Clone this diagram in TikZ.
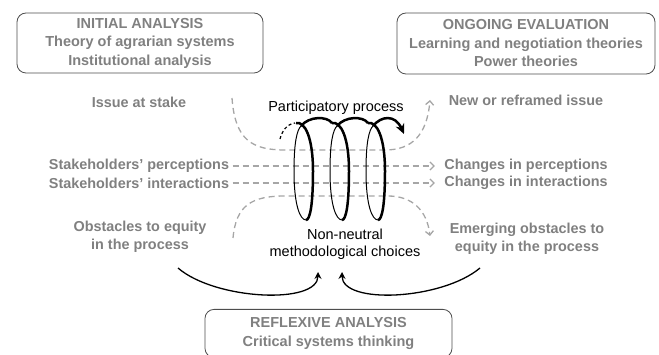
\documentclass[tikz,border=0pt]{standalone}
\usepackage{fontspec}
\setmainfont{Liberation Sans}
\usetikzlibrary{arrows.meta}
\definecolor{labelgrey}{HTML}{808080}
\definecolor{flowgrey}{HTML}{A6A6A6}
\definecolor{boxline}{HTML}{4D4D4D}

\begin{document}
\begin{tikzpicture}[x=1pt, y=-1pt, align=center,
    frame/.style={draw=boxline, line width=0.8pt, rounded corners=9pt, text=labelgrey, font=\bfseries\fontsize{14.5}{18.5}\selectfont},
    side label/.style={text=labelgrey, font=\bfseries\fontsize{14.4}{18}\selectfont},
    black label/.style={font=\fontsize{14.5}{17}\selectfont},
    flow/.style={draw=flowgrey, line width=1.3pt, dash pattern=on 6pt off 4pt, -{Straight Barb[length=4pt,width=8pt]}},
    front/.style={line width=2.5pt},
    back/.style={line width=1pt},
    choice/.style={line width=1.3pt, -{Stealth[length=7pt,width=7pt,inset=2.5pt]}}]
        \useasboundingbox (0,0) rectangle (659,355);

        \node[frame, minimum width=246pt, minimum height=60pt](Initial analysis) at (140,43) {INITIAL ANALYSIS\\Theory of agrarian systems\\Institutional analysis};
        \node[frame, minimum width=258pt, minimum height=61pt](Ongoing evaluation) at (526,43.5) {ONGOING EVALUATION\\Learning and negotiation theories\\Power theories};
        \node[frame, minimum width=247pt, minimum height=48pt, anchor=north](Reflexive analysis) at (328.5,309) {REFLEXIVE ANALYSIS\\Critical systems thinking};

        \node[side label](Issue at stake) at (139,102) {Issue at stake};
        \node[side label](Stakeholders perceptions) at (139,166) {Stakeholders’ perceptions};
        \node[side label](Stakeholders interactions) at (139,183) {Stakeholders’ interactions};
        \node[side label](Obstacles to equity) at (140,237) {Obstacles to equity\\in the process};

        \node[side label](New or reframed issue) at (526,100) {New or reframed issue};
        \node[side label](Changes in perceptions) at (526,166) {Changes in perceptions};
        \node[side label](Changes in interactions) at (526,183) {Changes in interactions};
        \node[side label](Emerging obstacles) at (527,239) {Emerging obstacles to\\equity in the process};

        \node[black label](Participatory process) at (336,108) {Participatory process};
        \node[black label](Non-neutral choices) at (345,244.5) {Non-neutral\\methodological choices};

        \coordinate (Issue out) at (232,98);
        \coordinate (Issue in) at (430,100);
        \coordinate (Obstacles out) at (233,238);
        \coordinate (Obstacles in) at (430,236);
        \coordinate (Reflexive left) at (178,268);
        \coordinate (Reflexive right) at (480,268);
        \coordinate (Choices left) at (318,272);
        \coordinate (Choices right) at (342,272);

        % flows through the process
        \draw[flow] (Issue out) .. controls (235,140) and (252,150) .. (285,150) -- (385,150) .. controls (412,150) and (427,135) .. (Issue in);
        \draw[flow, shorten >=6pt] (Stakeholders perceptions) -- (Changes in perceptions);
        \draw[flow, shorten >=6pt] (Stakeholders interactions) -- (Changes in interactions);
        \draw[flow] (Obstacles out) .. controls (236,205) and (252,196) .. (285,196) -- (388,196) .. controls (412,196) and (427,210) .. (Obstacles in);

        % the coil
        \draw[line width=1.2pt, dash pattern=on 3pt off 2.5pt] (280,139) .. controls (282,131) and (287,124) .. (295,123);
        \foreach \c in {303,339,375} {
            \draw[front] (\c-7,123) .. controls (\c+2,121) and (\c+10,138) .. (\c+10,171) .. controls (\c+10,205) and (\c+7,220) .. (\c+3,220);
            \draw[back] (\c+3,220) .. controls (\c-3,220) and (\c-9,205) .. (\c-9,171) .. controls (\c-9,142) and (\c-6,130) .. (\c-2,126);
        }
        \foreach \c in {303,339}
            \draw[front] (\c-2,126) .. controls (\c+6,116) and (\c+24,116) .. (\c+29,123);
        \draw[front, -{Stealth[length=10pt,width=9pt]}] (373,126) .. controls (381,116) and (395,114) .. (404,134);

        \draw[choice] (Reflexive left) .. controls (215,300) and (318,305) .. (Choices left);
        \draw[choice] (Reflexive right) .. controls (442,300) and (342,305) .. (Choices right);
    \end{tikzpicture}
\end{document}
